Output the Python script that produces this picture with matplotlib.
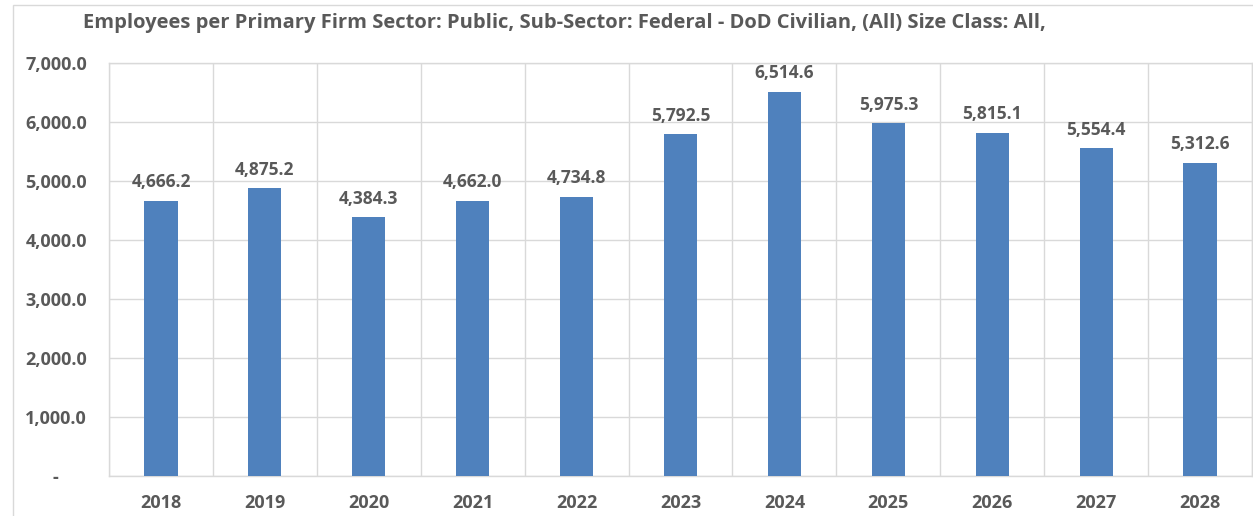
import numpy as np
import matplotlib.pyplot as plt
from matplotlib.patches import Rectangle
from matplotlib.ticker import FuncFormatter

years = ['2018', '2019', '2020', '2021', '2022', '2023', '2024', '2025', '2026', '2027', '2028']
employees = [4666.2, 4875.2, 4384.3, 4662.0, 4734.8, 5792.5, 6514.6, 5975.3, 5815.1, 5554.4, 5312.6]

plt.rcParams['font.family'] = ['Open Sans', 'DejaVu Sans']
text_color = '#595959'
grid_color = '#d9d9d9'

W, H = 1253, 516
fig = plt.figure(figsize=(W / 100, H / 100), dpi=100)
# plot area in pixels: left 109, right 1252, top 63, bottom 476
ax = fig.add_axes([109 / W, (H - 476) / H, (1252 - 109) / W, (476 - 63) / H])

# chart area border
fig.patches.append(Rectangle((13 / W, -0.01), 1.0, (H - 5) / H + 0.01,
                             transform=fig.transFigure, fill=False,
                             edgecolor=grid_color, linewidth=1.0))

x = np.arange(len(years))
ax.bar(x, employees, width=0.32, color='#4f81bd', zorder=3)

for xi, v in zip(x, employees):
    ax.annotate(f'{v:,.1f}', (xi, v), xytext=(0, 7), textcoords='offset points',
                ha='center', va='bottom', fontsize=12.5,
                fontweight='bold', color=text_color)

ax.set_xlim(-0.5, len(years) - 0.5)
ax.set_ylim(0, 7000)
ax.set_yticks(np.arange(0, 7001, 1000))
# excel accounting style: zero shown as a dash
ax.yaxis.set_major_formatter(FuncFormatter(lambda v, p: '-      ' if v == 0 else f'{v:,.1f}'))
ax.set_xticks(x)
ax.set_xticklabels(years)

# vertical separators between categories
ax.set_xticks(np.arange(-0.5, len(years), 1), minor=True)
ax.grid(axis='y', which='major', color=grid_color, linewidth=1.0, zorder=0)
ax.grid(axis='x', which='minor', color=grid_color, linewidth=1.0, zorder=0)
ax.grid(axis='x', which='major', visible=False)

for side in ax.spines.values():
    side.set_color(grid_color)
    side.set_linewidth(1.0)

ax.tick_params(axis='both', which='both', length=0)
ax.tick_params(axis='y', pad=16)
ax.tick_params(axis='x', pad=13)
for lbl in ax.get_yticklabels() + ax.get_xticklabels():
    lbl.set_fontweight('bold')
    lbl.set_color(text_color)
    lbl.set_fontsize(13)

fig.text(83 / W, 1 - 23 / H,
         'Employees per Primary Firm Sector: Public, Sub-Sector: Federal - DoD Civilian, (All) Size Class: All,',
         ha='left', va='center', fontsize=14.5, fontweight='bold', color=text_color)

fig.savefig('out.png', dpi=100)
